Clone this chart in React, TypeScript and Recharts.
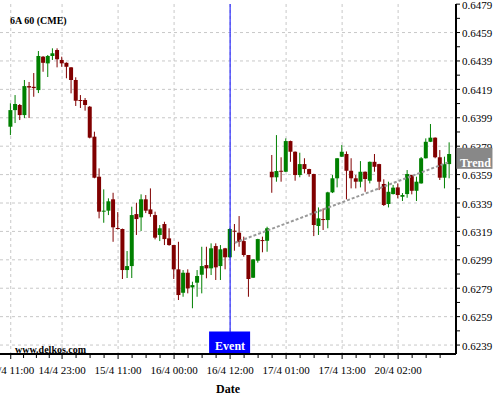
import React from "react";
import { ComposedChart, Bar, Line, XAxis, YAxis, CartesianGrid, ReferenceLine } from "recharts";

// hourly candles, 6A (AUD futures)
const openPrices = [
  0.63927, 0.64044, 0.6408, 0.64009, 0.64213, 0.64208, 0.64185, 0.6442, 0.64373, 0.64425,
  0.64467, 0.64397, 0.64377, 0.64345, 0.64256, 0.64115, 0.64115, 0.64068, 0.63857, 0.63575,
  0.63329, 0.63336, 0.63416, 0.63214, 0.63207, 0.62918, 0.62946, 0.63312, 0.63289, 0.63416,
  0.63345, 0.63305, 0.63165, 0.63242, 0.63141, 0.63094, 0.62923, 0.62758, 0.62899, 0.62796,
  0.62829, 0.62885, 0.62953, 0.6293, 0.63087, 0.62946, 0.63071, 0.63008, 0.63195, 0.63181,
  0.63122, 0.63024, 0.62864, 0.62984, 0.63129, 0.63124, 0.6361, 0.63571, 0.63617, 0.6361,
  0.63826, 0.63751, 0.63587, 0.63664, 0.63629, 0.63594, 0.63228, 0.63277, 0.6327, 0.63465,
  0.63564, 0.63716, 0.63735, 0.63617, 0.63564, 0.6354, 0.6361, 0.63547, 0.6368, 0.63664,
  0.63524, 0.63383, 0.63453, 0.635, 0.63434, 0.63453, 0.63587, 0.63476, 0.63528, 0.63705,
  0.63821, 0.6385, 0.63712, 0.63568, 0.63664,
];
const highPrices = [
  0.64092, 0.6415, 0.64087, 0.64256, 0.64242, 0.64305, 0.6446, 0.64425, 0.64432, 0.64479,
  0.64479, 0.6442, 0.6438, 0.64347, 0.64275, 0.6415, 0.64129, 0.64073, 0.63892, 0.63634,
  0.63486, 0.63423, 0.63462, 0.63326, 0.6321, 0.63052, 0.63364, 0.63392, 0.63451, 0.63446,
  0.63493, 0.63329, 0.63235, 0.63258, 0.63212, 0.63094, 0.63117, 0.62918, 0.62923, 0.62836,
  0.62918, 0.63082, 0.63082, 0.63106, 0.63106, 0.63094, 0.63074, 0.63212, 0.63242, 0.63298,
  0.63153, 0.63024, 0.62995, 0.63138, 0.63153, 0.63223, 0.63728, 0.63868, 0.63712, 0.63845,
  0.63829, 0.63753, 0.63744, 0.63705, 0.63631, 0.63596, 0.63359, 0.63352, 0.63469, 0.63587,
  0.63707, 0.63798, 0.63753, 0.63705, 0.63587, 0.63685, 0.63612, 0.63682, 0.63735, 0.63666,
  0.63557, 0.6354, 0.63517, 0.63528, 0.6346, 0.63622, 0.63589, 0.63575, 0.63714, 0.63845,
  0.63946, 0.63852, 0.63763, 0.63716, 0.63817,
];
const lowPrices = [
  0.63868, 0.63953, 0.63974, 0.63988, 0.63988, 0.64138, 0.64164, 0.64314, 0.64277, 0.64397,
  0.64345, 0.64349, 0.64268, 0.64162, 0.64073, 0.64059, 0.6404, 0.63845, 0.63564, 0.63282,
  0.63251, 0.63305, 0.63117, 0.63203, 0.62855, 0.62862, 0.62862, 0.63165, 0.63193, 0.63319,
  0.63293, 0.63134, 0.63122, 0.63094, 0.63089, 0.62855, 0.62707, 0.6273, 0.62754, 0.62649,
  0.6273, 0.62754, 0.6286, 0.62883, 0.62848, 0.62848, 0.62923, 0.63005, 0.63054, 0.63082,
  0.63012, 0.6273, 0.62862, 0.6297, 0.63043, 0.63047, 0.63462, 0.6354, 0.6354, 0.63608,
  0.6368, 0.63547, 0.63571, 0.63599, 0.63575, 0.63157, 0.63165, 0.632, 0.63212, 0.6346,
  0.635, 0.63714, 0.63416, 0.63493, 0.63493, 0.635, 0.63469, 0.63528, 0.6361, 0.63481,
  0.63369, 0.63359, 0.6345, 0.63423, 0.63404, 0.63427, 0.63451, 0.63404, 0.63526, 0.63703,
  0.63819, 0.63705, 0.63552, 0.63493, 0.63564,
];
const closePrices = [
  0.64044, 0.64087, 0.64009, 0.64213, 0.64203, 0.64199, 0.64425, 0.64377, 0.64425, 0.64444,
  0.64402, 0.64373, 0.64349, 0.64256, 0.6411, 0.64108, 0.6408, 0.6385, 0.63568, 0.63329,
  0.63336, 0.63402, 0.63219, 0.63207, 0.62918, 0.62946, 0.63305, 0.63277, 0.63416, 0.63336,
  0.63312, 0.63146, 0.63212, 0.63136, 0.63094, 0.62923, 0.62742, 0.62899, 0.62789, 0.62812,
  0.62876, 0.62946, 0.6293, 0.63071, 0.62937, 0.63064, 0.63008, 0.63207, 0.63188, 0.63117,
  0.63024, 0.62855, 0.62993, 0.63136, 0.63122, 0.63212, 0.63571, 0.63615, 0.6361, 0.63826,
  0.63751, 0.63587, 0.63664, 0.63629, 0.63594, 0.63235, 0.63282, 0.6327, 0.63465, 0.63564,
  0.63705, 0.63751, 0.63617, 0.63564, 0.6354, 0.6361, 0.63559, 0.6368, 0.63645, 0.6354,
  0.63376, 0.63469, 0.63498, 0.63446, 0.63446, 0.63594, 0.63476, 0.6354, 0.63705, 0.63821,
  0.6385, 0.63712, 0.63568, 0.63664, 0.63735,
];

const xTickIndex = [0, 11, 23, 35, 47, 59, 71, 83];
const xTickLabels = ["14/4 11:00", "14/4 23:00", "15/4 11:00", "16/4 00:00", "16/4 12:00", "17/4 01:00", "17/4 13:00", "20/4 02:00"];
const xMinorTicks = [2.75, 5.5, 8.25, 14, 17, 20, 26, 29, 32, 38, 41, 44, 50, 53, 56, 62, 65, 68, 74, 77, 80, 86, 89, 92];

const yTicks = [0.6239, 0.6259, 0.6279, 0.6299, 0.6319, 0.6339, 0.6359, 0.6379, 0.6399, 0.6419, 0.6439, 0.6459, 0.6479];
const yMinorTicks = [0.6249, 0.6269, 0.6289, 0.6309, 0.6329, 0.6349, 0.6369, 0.6389, 0.6409, 0.6429, 0.6449, 0.6469];
const yGrid = [0.6239, 0.6259, 0.6279, 0.6299, 0.6319, 0.6339, 0.6359, 0.6379, 0.6399, 0.6419, 0.6439, 0.6459];

const eventIndex = 47;
const trendIndex = [48, 94];
const trendValues = [0.6311, 0.6368];

const data = openPrices.map((open, i) => ({
  index: i,
  open,
  high: highPrices[i],
  low: lowPrices[i],
  close: closePrices[i],
  trend: trendIndex.includes(i) ? trendValues[trendIndex.indexOf(i)] : null,
}));

const UP = "#008000";
const DOWN = "#800000";
const FONT = "'Liberation Serif', 'DejaVu Serif', serif";

const Candle = (props: any) => {
  const { x, y, width, height, payload } = props;
  if (!payload || height == null) return null;
  const top = Math.min(y, y + height);
  const h = Math.abs(height);
  const span = payload.high - payload.low || 1;
  const toY = (v: number) => top + ((payload.high - v) / span) * h;
  const cx = x + width / 2;
  const yo = toY(payload.open);
  const yc = toY(payload.close);
  const color = payload.close >= payload.open ? UP : DOWN;
  const bodyTop = Math.min(yo, yc);
  const bodyH = Math.max(Math.abs(yc - yo), 1);
  return (
    <g>
      <line x1={cx} x2={cx} y1={top} y2={top + h} stroke={color} strokeWidth={1} />
      <rect x={x} y={bodyTop} width={width} height={bodyH} fill={color} />
    </g>
  );
};

const XTick = (props: any) => {
  const { x, y, payload } = props;
  const k = xTickIndex.indexOf(payload.value);
  return (
    <g>
      <line x1={x} x2={x} y1={y} y2={y + (k >= 0 ? 5 : 4)} stroke="#000" />
      {k >= 0 && (
        <text x={x} y={y + 20} textAnchor="middle" fontSize={11} fill="#000">
          {xTickLabels[k]}
        </text>
      )}
    </g>
  );
};

const YTick = (props: any) => {
  const { x, y, payload } = props;
  const major = yTicks.some((t) => Math.abs(t - payload.value) < 1e-7);
  return (
    <g>
      <line x1={x} x2={x + 4} y1={y} y2={y} stroke="#000" />
      {major && (
        <text x={x + 6} y={y + 4.5} fontSize={11} fill="#000">
          {payload.value.toFixed(4)}
        </text>
      )}
    </g>
  );
};

const EventLabel = (props: any) => {
  const vb = props.viewBox || {};
  const cx = vb.x;
  const bottom = vb.y + vb.height;
  return (
    <g>
      <rect x={cx - 21} y={bottom - 22.5} width={41} height={22.5} fill="#0000ff" />
      <text x={cx} y={bottom - 4} textAnchor="middle" fill="#fff" fontSize={12} fontWeight="bold">
        Event
      </text>
    </g>
  );
};

const TrendLabel = (props: any) => {
  if (props.index !== trendIndex[trendIndex.length - 1]) return null;
  const px = props.viewBox?.x ?? props.x;
  const py = props.viewBox?.y ?? props.y;
  if (px == null || py == null) return null;
  return (
    <g>
      <rect x={px + 7} y={py - 14} width={36} height={21} fill="#888" />
      <text x={px + 26} y={py + 4.7} textAnchor="middle" fill="#fff" fontSize={12} fontWeight="bold">
        Trend
      </text>
    </g>
  );
};

export default function App() {
  return (
    <div style={{ position: "absolute", left: 0, top: 0, width: 500, height: 400, background: "#fff", fontFamily: FONT }}>
      <ComposedChart width={500} height={400} data={data} margin={{ top: 4, right: 0, bottom: 0, left: 0 }}>
        <CartesianGrid stroke="#c8c8c8" strokeDasharray="3 3" horizontalValues={yGrid} verticalValues={xTickIndex} />
        <XAxis
          dataKey="index"
          type="number"
          domain={[-2.3, 95.4]}
          ticks={[...xTickIndex, ...xMinorTicks].sort((a, b) => a - b)}
          interval={0}
          height={46}
          tickSize={0}
          tickMargin={0}
          tickLine={false}
          axisLine={{ stroke: "#000", strokeWidth: 2 }}
          tick={<XTick />}
          label={{ value: "Date", position: "insideBottom", offset: 7, fontSize: 12, fontWeight: "bold", fill: "#000" }}
        />
        <YAxis
          orientation="right"
          type="number"
          width={44}
          domain={[0.62327, 0.64791]}
          ticks={[...yTicks, ...yMinorTicks].sort((a, b) => a - b)}
          interval={0}
          tickSize={0}
          tickMargin={0}
          tickLine={false}
          axisLine={{ stroke: "#000", strokeWidth: 2 }}
          tick={<YTick />}
        />
        <Bar dataKey={(d: any) => [d.low, d.high]} barSize={4} shape={<Candle />} isAnimationActive={false} />
        <Line
          dataKey="trend"
          stroke="#999"
          strokeWidth={2}
          strokeDasharray="3 2"
          dot={false}
          activeDot={false}
          connectNulls
          isAnimationActive={false}
          label={<TrendLabel />}
        />
        <ReferenceLine x={eventIndex} stroke="#0000ff" strokeWidth={1} label={<EventLabel />} />
      </ComposedChart>
      <svg width={500} height={400} style={{ position: "absolute", left: 0, top: 0, pointerEvents: "none" }}>
        <text x={10} y={23.5} fontSize={10} fontWeight="bold" fill="#000" fontFamily={FONT}>
          6A 60 (CME)
        </text>
        <text x={15} y={352.5} fontSize={10} fontWeight="bold" fill="#000" fontFamily={FONT}>
          www.delkos.com
        </text>
      </svg>
    </div>
  );
}
